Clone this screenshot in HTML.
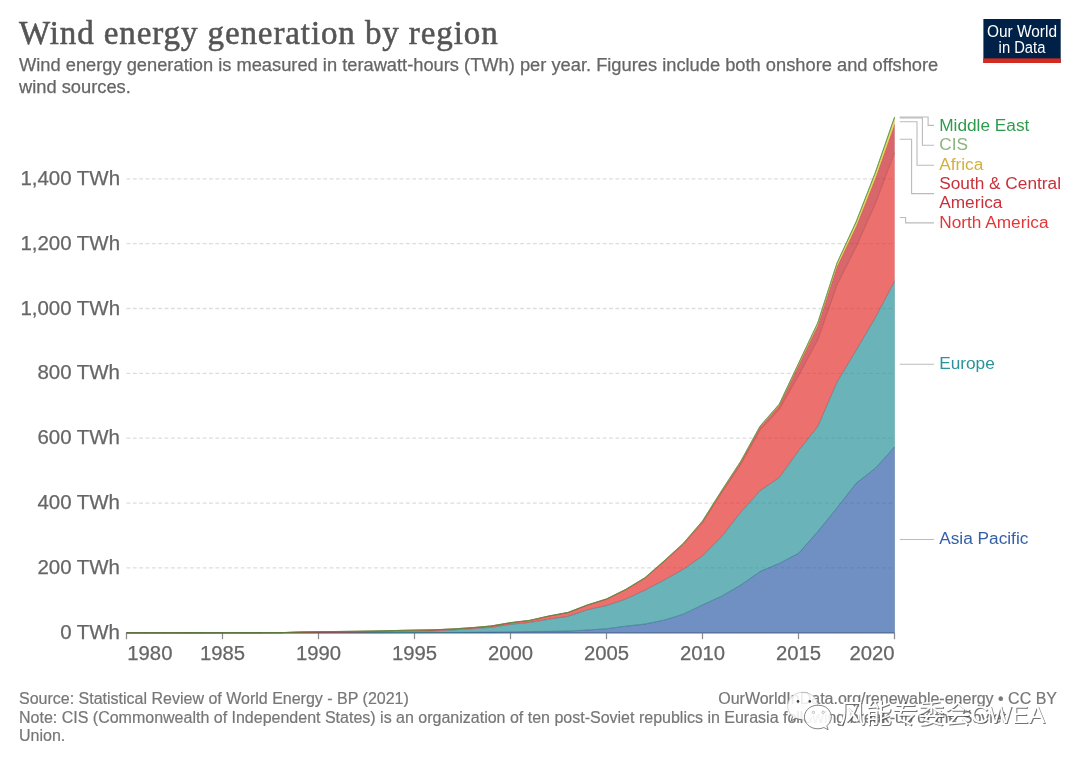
<!DOCTYPE html>
<html lang="en">
<head>
<meta charset="utf-8">
<title>Wind energy generation by region</title>
<style>
html,body{margin:0;padding:0;background:#fff;}
body{width:1080px;height:762px;overflow:hidden;}
svg{display:block;}
.sans{font-family:"Liberation Sans",sans-serif;}
.serif{font-family:"Liberation Serif",serif;}
.grid line{stroke:#ddd;stroke-width:1.27;stroke-dasharray:3.81 2.54;}
.ylab text{font-size:20.45px;fill:#666;text-anchor:end;stroke:#666;stroke-width:0.25;}
.xlab text{font-size:20.3px;fill:#666;stroke:#666;stroke-width:0.25;}
.ticks line{stroke:#8c8c8c;stroke-width:1.27;}
.conn path{fill:none;stroke:#bbb;stroke-width:1.1;}
.leg text{font-size:17.25px;}
.foot text{font-size:16px;fill:#777;stroke:#777;stroke-width:0.2;}
.wm{font-family:"Liberation Sans","Noto Sans CJK SC",sans-serif;font-size:26.3px;}
</style>
</head>
<body>
<svg width="1080" height="762" viewBox="0 0 1080 762" class="sans">
<rect width="1080" height="762" fill="#fff"/>
<!-- header -->
<text class="serif" x="19" y="43.9" font-size="33" letter-spacing="0.9" fill="#555" stroke="#555" stroke-width="0.55">Wind energy generation by region</text>
<text x="19" y="70.7" font-size="18.29" fill="#666" stroke="#666" stroke-width="0.25">Wind energy generation is measured in terawatt-hours (TWh) per year. Figures include both onshore and offshore</text>
<text x="19" y="92.7" font-size="18.29" fill="#666" stroke="#666" stroke-width="0.25">wind sources.</text>
<!-- logo -->
<g>
<rect x="983.4" y="19" width="77.3" height="44" fill="#002147"/>
<rect x="983.4" y="58.4" width="77.3" height="4.6" fill="#d42b21"/>
<text x="987" y="36.7" font-size="16.8" fill="#fff" textLength="70" lengthAdjust="spacingAndGlyphs">Our World</text>
<text x="998.6" y="53" font-size="16.8" fill="#fff" textLength="46.8" lengthAdjust="spacingAndGlyphs">in Data</text>
</g>
<!-- grid -->
<g class="grid"><line x1="126.5" x2="894.5" y1="567.94" y2="567.94"/><line x1="126.5" x2="894.5" y1="503.08" y2="503.08"/><line x1="126.5" x2="894.5" y1="438.22" y2="438.22"/><line x1="126.5" x2="894.5" y1="373.36" y2="373.36"/><line x1="126.5" x2="894.5" y1="308.50" y2="308.50"/><line x1="126.5" x2="894.5" y1="243.64" y2="243.64"/><line x1="126.5" x2="894.5" y1="178.78" y2="178.78"/></g>
<g class="ylab"><text x="120" y="638.90">0 TWh</text><text x="120" y="574.04">200 TWh</text><text x="120" y="509.18">400 TWh</text><text x="120" y="444.32">600 TWh</text><text x="120" y="379.46">800 TWh</text><text x="120" y="314.60">1,000 TWh</text><text x="120" y="249.74">1,200 TWh</text><text x="120" y="184.88">1,400 TWh</text></g>
<!-- axis -->
<line x1="126.5" x2="894.5" y1="632.8" y2="632.8" stroke="#888" stroke-width="1.27"/>
<g class="ticks"><line x1="126.50" x2="126.50" y1="632.8" y2="639.2"/><line x1="222.50" x2="222.50" y1="632.8" y2="639.2"/><line x1="318.50" x2="318.50" y1="632.8" y2="639.2"/><line x1="414.50" x2="414.50" y1="632.8" y2="639.2"/><line x1="510.50" x2="510.50" y1="632.8" y2="639.2"/><line x1="606.50" x2="606.50" y1="632.8" y2="639.2"/><line x1="702.50" x2="702.50" y1="632.8" y2="639.2"/><line x1="798.50" x2="798.50" y1="632.8" y2="639.2"/><line x1="894.50" x2="894.50" y1="632.8" y2="639.2"/></g>
<g class="xlab"><text x="222.50" y="660.1" text-anchor="middle">1985</text><text x="318.50" y="660.1" text-anchor="middle">1990</text><text x="414.50" y="660.1" text-anchor="middle">1995</text><text x="510.50" y="660.1" text-anchor="middle">2000</text><text x="606.50" y="660.1" text-anchor="middle">2005</text><text x="702.50" y="660.1" text-anchor="middle">2010</text><text x="798.50" y="660.1" text-anchor="middle">2015</text><text x="127.3" y="660.1" text-anchor="start">1980</text><text x="894.6" y="660.1" text-anchor="end">2020</text></g>
<!-- areas -->
<g>
<path d="M126.50,632.80 L145.70,632.80 L164.90,632.80 L184.10,632.80 L203.30,632.80 L222.50,632.80 L241.70,632.80 L260.90,632.80 L280.10,632.80 L299.30,632.79 L318.50,632.79 L337.70,632.78 L356.90,632.77 L376.10,632.75 L395.30,632.70 L414.50,632.61 L433.70,632.48 L452.90,632.41 L472.10,632.31 L491.30,632.12 L510.50,631.83 L529.70,631.57 L548.90,631.34 L568.10,631.02 L587.30,630.01 L606.50,628.75 L625.70,626.15 L644.90,624.04 L664.10,620.15 L683.30,614.15 L702.50,604.91 L721.70,596.15 L740.90,584.97 L760.10,571.51 L779.30,563.40 L798.50,553.35 L817.70,531.62 L836.90,507.94 L856.10,483.30 L875.30,468.22 L894.50,446.98 L894.50,632.80 L875.30,632.80 L856.10,632.80 L836.90,632.80 L817.70,632.80 L798.50,632.80 L779.30,632.80 L760.10,632.80 L740.90,632.80 L721.70,632.80 L702.50,632.80 L683.30,632.80 L664.10,632.80 L644.90,632.80 L625.70,632.80 L606.50,632.80 L587.30,632.80 L568.10,632.80 L548.90,632.80 L529.70,632.80 L510.50,632.80 L491.30,632.80 L472.10,632.80 L452.90,632.80 L433.70,632.80 L414.50,632.80 L395.30,632.80 L376.10,632.80 L356.90,632.80 L337.70,632.80 L318.50,632.80 L299.30,632.80 L280.10,632.80 L260.90,632.80 L241.70,632.80 L222.50,632.80 L203.30,632.80 L184.10,632.80 L164.90,632.80 L145.70,632.80 L126.50,632.80Z" fill="#3360A9" fill-opacity="0.7" stroke="#274b85" stroke-width="0.6" stroke-opacity="0.6"/>
<path d="M126.50,632.80 L145.70,632.80 L164.90,632.80 L184.10,632.79 L203.30,632.79 L222.50,632.79 L241.70,632.78 L260.90,632.77 L280.10,632.75 L299.30,632.64 L318.50,632.54 L337.70,632.44 L356.90,632.28 L376.10,632.02 L395.30,631.63 L414.50,631.31 L433.70,630.92 L452.90,630.04 L472.10,628.75 L491.30,627.45 L510.50,624.37 L529.70,622.42 L548.90,619.18 L568.10,616.33 L587.30,609.77 L606.50,605.56 L625.70,599.07 L644.90,590.15 L664.10,580.10 L683.30,569.24 L702.50,555.94 L721.70,536.48 L740.90,512.00 L760.10,490.59 L779.30,477.46 L798.50,450.71 L817.70,426.55 L836.90,382.12 L856.10,350.33 L875.30,317.58 L894.50,281.39 L894.50,446.98 L875.30,468.22 L856.10,483.30 L836.90,507.94 L817.70,531.62 L798.50,553.35 L779.30,563.40 L760.10,571.51 L740.90,584.97 L721.70,596.15 L702.50,604.91 L683.30,614.15 L664.10,620.15 L644.90,624.04 L625.70,626.15 L606.50,628.75 L587.30,630.01 L568.10,631.02 L548.90,631.34 L529.70,631.57 L510.50,631.83 L491.30,632.12 L472.10,632.31 L452.90,632.41 L433.70,632.48 L414.50,632.61 L395.30,632.70 L376.10,632.75 L356.90,632.77 L337.70,632.78 L318.50,632.79 L299.30,632.79 L280.10,632.80 L260.90,632.80 L241.70,632.80 L222.50,632.80 L203.30,632.80 L184.10,632.80 L164.90,632.80 L145.70,632.80 L126.50,632.80Z" fill="#2A939B" fill-opacity="0.7" stroke="#1f6e74" stroke-width="0.6" stroke-opacity="0.5"/>
<path d="M126.50,632.80 L145.70,632.80 L164.90,632.80 L184.10,632.79 L203.30,632.79 L222.50,632.79 L241.70,632.77 L260.90,632.75 L280.10,632.71 L299.30,631.96 L318.50,631.64 L337.70,631.49 L356.90,631.30 L376.10,630.98 L395.30,630.53 L414.50,630.14 L433.70,629.87 L452.90,628.98 L472.10,627.73 L491.30,626.04 L510.50,622.75 L529.70,620.48 L548.90,616.13 L568.10,612.60 L587.30,605.17 L606.50,599.17 L625.70,589.75 L644.90,578.20 L664.10,561.52 L683.30,544.27 L702.50,522.70 L721.70,492.70 L740.90,464.16 L760.10,429.89 L779.30,409.36 L798.50,375.63 L817.70,339.96 L836.90,285.15 L856.10,246.88 L875.30,203.75 L894.50,152.84 L894.50,281.39 L875.30,317.58 L856.10,350.33 L836.90,382.12 L817.70,426.55 L798.50,450.71 L779.30,477.46 L760.10,490.59 L740.90,512.00 L721.70,536.48 L702.50,555.94 L683.30,569.24 L664.10,580.10 L644.90,590.15 L625.70,599.07 L606.50,605.56 L587.30,609.77 L568.10,616.33 L548.90,619.18 L529.70,622.42 L510.50,624.37 L491.30,627.45 L472.10,628.75 L452.90,630.04 L433.70,630.92 L414.50,631.31 L395.30,631.63 L376.10,632.02 L356.90,632.28 L337.70,632.44 L318.50,632.54 L299.30,632.64 L280.10,632.75 L260.90,632.77 L241.70,632.78 L222.50,632.79 L203.30,632.79 L184.10,632.79 L164.90,632.80 L145.70,632.80 L126.50,632.80Z" fill="#E43330" fill-opacity="0.7" stroke="#ad2725" stroke-width="0.6" stroke-opacity="0.35"/>
<path d="M126.50,632.80 L145.70,632.80 L164.90,632.80 L184.10,632.79 L203.30,632.79 L222.50,632.79 L241.70,632.76 L260.90,632.74 L280.10,632.70 L299.30,631.95 L318.50,631.64 L337.70,631.48 L356.90,631.29 L376.10,630.97 L395.30,630.52 L414.50,630.13 L433.70,629.85 L452.90,628.95 L472.10,627.73 L491.30,626.01 L510.50,622.71 L529.70,620.43 L548.90,616.08 L568.10,612.54 L587.30,605.11 L606.50,599.11 L625.70,589.66 L644.90,578.06 L664.10,561.35 L683.30,543.86 L702.50,521.57 L721.70,491.21 L740.90,461.82 L760.10,427.02 L779.30,405.36 L798.50,365.19 L817.70,325.41 L836.90,266.82 L856.10,226.39 L875.30,178.46 L894.50,124.46 L894.50,152.84 L875.30,203.75 L856.10,246.88 L836.90,285.15 L817.70,339.96 L798.50,375.63 L779.30,409.36 L760.10,429.89 L740.90,464.16 L721.70,492.70 L702.50,522.70 L683.30,544.27 L664.10,561.52 L644.90,578.20 L625.70,589.75 L606.50,599.17 L587.30,605.17 L568.10,612.60 L548.90,616.13 L529.70,620.48 L510.50,622.75 L491.30,626.04 L472.10,627.73 L452.90,628.98 L433.70,629.87 L414.50,630.14 L395.30,630.53 L376.10,630.98 L356.90,631.30 L337.70,631.49 L318.50,631.64 L299.30,631.96 L280.10,632.71 L260.90,632.75 L241.70,632.77 L222.50,632.79 L203.30,632.79 L184.10,632.79 L164.90,632.80 L145.70,632.80 L126.50,632.80Z" fill="#C7272D" fill-opacity="0.7" stroke="#961e22" stroke-width="0.6" stroke-opacity="0.35"/>
<path d="M126.50,632.80 L145.70,632.80 L164.90,632.79 L184.10,632.79 L203.30,632.79 L222.50,632.78 L241.70,632.75 L260.90,632.74 L280.10,632.69 L299.30,631.94 L318.50,631.62 L337.70,631.47 L356.90,631.28 L376.10,630.95 L395.30,630.50 L414.50,630.11 L433.70,629.82 L452.90,628.91 L472.10,627.67 L491.30,625.95 L510.50,622.64 L529.70,620.34 L548.90,615.96 L568.10,612.40 L587.30,604.94 L606.50,598.91 L625.70,589.38 L644.90,577.71 L664.10,560.92 L683.30,543.35 L702.50,520.98 L721.70,490.54 L740.90,461.06 L760.10,426.18 L779.30,404.23 L798.50,363.57 L817.70,323.14 L836.90,263.57 L856.10,222.17 L875.30,173.10 L894.50,118.14 L894.50,124.46 L875.30,178.46 L856.10,226.39 L836.90,266.82 L817.70,325.41 L798.50,365.19 L779.30,405.36 L760.10,427.02 L740.90,461.82 L721.70,491.21 L702.50,521.57 L683.30,543.86 L664.10,561.35 L644.90,578.06 L625.70,589.66 L606.50,599.11 L587.30,605.11 L568.10,612.54 L548.90,616.08 L529.70,620.43 L510.50,622.71 L491.30,626.01 L472.10,627.73 L452.90,628.95 L433.70,629.85 L414.50,630.13 L395.30,630.52 L376.10,630.97 L356.90,631.29 L337.70,631.48 L318.50,631.64 L299.30,631.95 L280.10,632.70 L260.90,632.74 L241.70,632.76 L222.50,632.79 L203.30,632.79 L184.10,632.79 L164.90,632.80 L145.70,632.80 L126.50,632.80Z" fill="#E9C820" fill-opacity="0.7" stroke="#b09718" stroke-width="0.6" stroke-opacity="0.3"/>
<path d="M126.50,632.80 L145.70,632.80 L164.90,632.79 L184.10,632.79 L203.30,632.79 L222.50,632.78 L241.70,632.75 L260.90,632.74 L280.10,632.69 L299.30,631.94 L318.50,631.62 L337.70,631.47 L356.90,631.28 L376.10,630.95 L395.30,630.50 L414.50,630.11 L433.70,629.82 L452.90,628.91 L472.10,627.67 L491.30,625.95 L510.50,622.64 L529.70,620.34 L548.90,615.96 L568.10,612.40 L587.30,604.94 L606.50,598.91 L625.70,589.38 L644.90,577.71 L664.10,560.92 L683.30,543.35 L702.50,520.98 L721.70,490.52 L740.90,461.02 L760.10,426.12 L779.30,404.15 L798.50,363.47 L817.70,322.99 L836.90,263.37 L856.10,221.91 L875.30,172.72 L894.50,117.42 L894.50,118.14 L875.30,173.10 L856.10,222.17 L836.90,263.57 L817.70,323.14 L798.50,363.57 L779.30,404.23 L760.10,426.18 L740.90,461.06 L721.70,490.54 L702.50,520.98 L683.30,543.35 L664.10,560.92 L644.90,577.71 L625.70,589.38 L606.50,598.91 L587.30,604.94 L568.10,612.40 L548.90,615.96 L529.70,620.34 L510.50,622.64 L491.30,625.95 L472.10,627.67 L452.90,628.91 L433.70,629.82 L414.50,630.11 L395.30,630.50 L376.10,630.95 L356.90,631.28 L337.70,631.47 L318.50,631.62 L299.30,631.94 L280.10,632.69 L260.90,632.74 L241.70,632.75 L222.50,632.78 L203.30,632.79 L184.10,632.79 L164.90,632.79 L145.70,632.80 L126.50,632.80Z" fill="#8CB47E" fill-opacity="0.7" stroke="#69875e" stroke-width="0.6" stroke-opacity="0.3"/>
<path d="M126.50,632.80 L145.70,632.80 L164.90,632.79 L184.10,632.79 L203.30,632.79 L222.50,632.78 L241.70,632.75 L260.90,632.74 L280.10,632.69 L299.30,631.94 L318.50,631.62 L337.70,631.47 L356.90,631.28 L376.10,630.95 L395.30,630.50 L414.50,630.11 L433.70,629.82 L452.90,628.91 L472.10,627.64 L491.30,625.92 L510.50,622.62 L529.70,620.31 L548.90,615.94 L568.10,612.37 L587.30,604.91 L606.50,598.88 L625.70,589.34 L644.90,577.67 L664.10,560.87 L683.30,543.29 L702.50,520.92 L721.70,490.43 L740.90,460.92 L760.10,425.99 L779.30,404.01 L798.50,363.31 L817.70,322.77 L836.90,263.10 L856.10,221.59 L875.30,172.29 L894.50,116.84 L894.50,117.42 L875.30,172.72 L856.10,221.91 L836.90,263.37 L817.70,322.99 L798.50,363.47 L779.30,404.15 L760.10,426.12 L740.90,461.02 L721.70,490.52 L702.50,520.98 L683.30,543.35 L664.10,560.92 L644.90,577.71 L625.70,589.38 L606.50,598.91 L587.30,604.94 L568.10,612.40 L548.90,615.96 L529.70,620.34 L510.50,622.64 L491.30,625.95 L472.10,627.67 L452.90,628.91 L433.70,629.82 L414.50,630.11 L395.30,630.50 L376.10,630.95 L356.90,631.28 L337.70,631.47 L318.50,631.62 L299.30,631.94 L280.10,632.69 L260.90,632.74 L241.70,632.75 L222.50,632.78 L203.30,632.79 L184.10,632.79 L164.90,632.79 L145.70,632.80 L126.50,632.80Z" fill="#2E9B4C" fill-opacity="0.7" stroke="#3a8a35" stroke-width="0.6" stroke-opacity="0.6"/>
</g>
<!-- legend connectors -->
<g class="conn">
<path d="M899.7,117 H928.1 V125.4 H934"/>
<path d="M899.7,117.9 H922.4 V145.2 H934"/>
<path d="M899.7,121.8 H917 V165.3 H934"/>
<path d="M899.7,139.2 H911.6 V193.6 H934"/>
<path d="M899.7,217.5 H905.6 V222.9 H934"/>
<path d="M899.7,364.3 H934"/>
<path d="M899.7,539.5 H934"/>
</g>
<g class="leg">
<text x="939.2" y="130.7" fill="#2E9B4C">Middle East</text>
<text x="939.2" y="149.9" fill="#8CB47E">CIS</text>
<text x="939.2" y="169.7" fill="#D4B03C">Africa</text>
<text x="939.2" y="189.2" fill="#C8303A">South &amp; Central</text>
<text x="939.2" y="208.3" fill="#C8303A">America</text>
<text x="939.2" y="227.6" fill="#E43638">North America</text>
<text x="939.2" y="369.2" fill="#2A939B">Europe</text>
<text x="939.2" y="544.3" fill="#3360A9">Asia Pacific</text>
</g>
<!-- footer -->
<g class="foot">
<text x="19" y="704.3">Source: Statistical Review of World Energy - BP (2021)</text>
<text x="1057" y="704.3" text-anchor="end">OurWorldInData.org/renewable-energy • CC BY</text>
<text x="19" y="722.5">Note: CIS (Commonwealth of Independent States) is an organization of ten post-Soviet republics in Eurasia following break-up of the Soviet</text>
<text x="19" y="740.8">Union.</text>
</g>
<!-- watermark -->
<g>
<path d="M802.7,692.2 a15,13.8 0 1 1 -7.2,25.9 l-4.4,2.6 l1.3,-4.6 a15,13.8 0 0 1 10.3,-23.9z" fill="#fff" fill-opacity="0.86" stroke="#bbb" stroke-width="0.6"/>
<path d="M792.6,716.4 l-1.4,4.4 l4.6,-2.4 q3,1.2 6,1.3" fill="none" stroke="#666" stroke-width="0.9"/>
<circle cx="798" cy="701.4" r="1.3" fill="#444"/><circle cx="809.8" cy="701.4" r="1.3" fill="#444"/>
<path d="M818,705.2 a13.4,11.8 0 0 1 8.9,20.6 l1.2,4 l-4.2,-2.3 a13.4,11.8 0 1 1 -5.9,-22.3z" fill="#fff" fill-opacity="0.9" stroke="#777" stroke-width="0.9"/>
<circle cx="813.4" cy="712.3" r="1.2" fill="#fff" stroke="#999" stroke-width="0.6"/><circle cx="823.2" cy="712.3" r="1.2" fill="#fff" stroke="#999" stroke-width="0.6"/>
<text class="wm" x="840.3" y="724.1" fill="#444" fill-opacity="0.75">风能专委会<tspan font-size="24.7">CWEA</tspan></text>
<text class="wm" x="839.3" y="723.1" fill="#fff">风能专委会<tspan font-size="24.7">CWEA</tspan></text>
</g>
</svg>
</body>
</html>
